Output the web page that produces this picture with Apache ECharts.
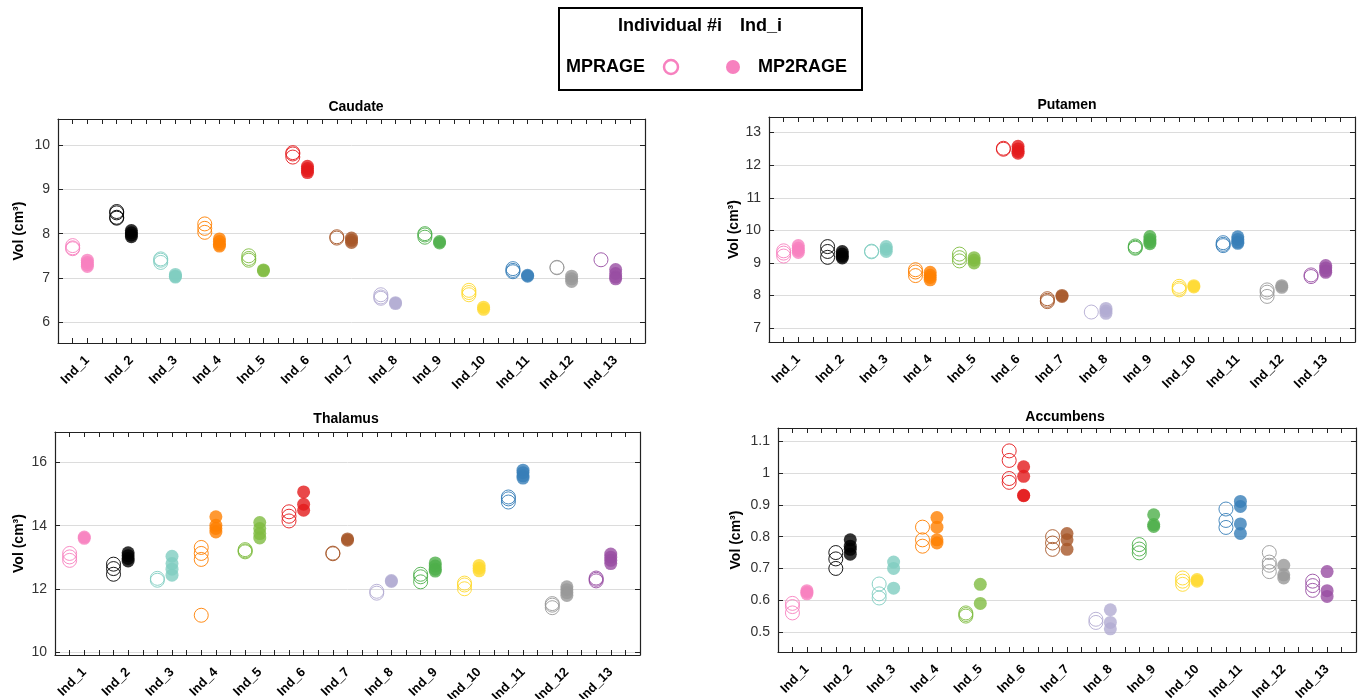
<!DOCTYPE html>
<html>
<head>
<meta charset="utf-8">
<script src="https://cdn.jsdelivr.net/npm/echarts@6/dist/echarts.min.js"></script>
<style>
html,body{margin:0;padding:0;background:#fff;}
#chart{width:1364px;height:699px;}
</style>
</head>
<body>
<div id="chart"></div>
<script>
const individuals = ['Ind_1','Ind_2','Ind_3','Ind_4','Ind_5','Ind_6','Ind_7','Ind_8','Ind_9','Ind_10','Ind_11','Ind_12','Ind_13'];
const colors = ['#F781BF','#000000','#80CDC1','#FF7F00','#7FBC41','#E41A1C','#A65628','#B2ABD2','#4DAF4A','#FFD92F','#377EB8','#999999','#984EA3'];

const caudateMPRAGE = [[7.73,7.68,7.66],[8.50,8.47,8.37,8.35],[7.43,7.40,7.35],[8.22,8.12,8.03],[7.50,7.44,7.40],[9.83,9.80,9.73],[7.93,7.90],[6.62,6.57,6.54],[8.00,7.97,7.92],[6.72,6.67,6.62],[7.21,7.17,7.14],[7.24,7.23],[7.41]];
const caudateMP2RAGE = [[7.40,7.35,7.30,7.26],[8.07,8.02,7.97,7.93],[7.08,7.04,7.02],[7.88,7.82,7.76,7.72],[7.18,7.16],[9.52,9.47,9.42,9.38],[7.90,7.85,7.80],[6.44,6.42],[7.82,7.79],[6.34,6.29],[7.06,7.04],[7.04,6.98,6.92],[7.19,7.10,7.02,6.98]];

const putamenMPRAGE = [[9.37,9.30,9.21],[9.50,9.35,9.17],[9.36,9.34],[8.79,8.72,8.61],[9.27,9.16,9.06],[12.52,12.49],[7.90,7.85,7.81],[7.49],[9.52,9.48,9.45],[8.28,8.22,8.17],[9.62,9.57,9.53],[8.17,8.10,7.97],[8.63,8.58]];
const putamenMP2RAGE = [[9.53,9.45,9.38,9.32],[9.35,9.27,9.20,9.15],[9.50,9.42,9.35],[8.71,8.62,8.55,8.48],[9.16,9.08,9.00],[12.58,12.50,12.42,12.37],[8.00,7.97],[7.60,7.52,7.45],[9.81,9.72,9.64,9.59],[8.30,8.26],[9.80,9.72,9.64,9.60],[8.30,8.25],[8.92,8.84,8.76,8.71]];

const thalamusMPRAGE = [[13.12,13.01,12.90],[12.78,12.64,12.46],[12.33,12.27],[13.31,13.12,12.93,11.16],[13.24,13.20,13.17],[14.44,14.30,14.15],[13.13,13.11],[11.92,11.86],[12.46,12.38,12.22],[12.18,12.12,12.00],[14.91,14.85,14.75],[11.53,11.48,11.40],[12.34,12.30,12.25]];
const thalamusMP2RAGE = [[13.64,13.60],[13.14,13.05,12.96,12.88],[13.03,12.80,12.62,12.43],[14.28,14.01,13.91,13.80],[14.10,13.91,13.75,13.61],[15.07,14.68,14.49],[13.58,13.54],[12.26,12.23],[12.82,12.72,12.62,12.56],[12.74,12.65,12.57],[15.76,15.68,15.58,15.51],[12.06,11.97,11.88,11.79],[13.10,13.00,12.90,12.80]];

const accumbensMPRAGE = [[0.59,0.58,0.56],[0.75,0.73,0.70],[0.651,0.62,0.607],[0.83,0.79,0.77],[0.56,0.555,0.55],[1.07,1.04,0.983,0.971],[0.80,0.78,0.76],[0.54,0.53],[0.775,0.761,0.749],[0.67,0.66,0.65],[0.887,0.851,0.829],[0.75,0.72,0.71,0.69],[0.66,0.646,0.631]];
const accumbensMP2RAGE = [[0.63,0.625,0.62],[0.79,0.77,0.76,0.745],[0.72,0.70,0.638],[0.86,0.83,0.79,0.78],[0.65,0.59],[1.02,0.99,0.93,0.929],[0.81,0.79,0.76],[0.57,0.53,0.51],[0.869,0.838,0.832],[0.665,0.66],[0.911,0.895,0.84,0.81],[0.71,0.68,0.67],[0.69,0.63,0.612]];

const panels = [
  {title:'Caudate', m:caudateMPRAGE, m2:caudateMP2RAGE, min:5.53, max:10.59, split:5, grid:{left:58,top:119,width:587,height:224}, tx:351, ty:95, nameGap:32},
  {title:'Putamen', m:putamenMPRAGE, m2:putamenMP2RAGE, min:6.57, max:13.48, split:7, grid:{left:769,top:117,width:586,height:225}, tx:1062, ty:93, nameGap:28},
  {title:'Thalamus', m:thalamusMPRAGE, m2:thalamusMP2RAGE, min:9.9, max:16.97, split:4, grid:{left:55,top:432,width:585,height:223}, tx:341, ty:407, nameGap:29},
  {title:'Accumbens', m:accumbensMPRAGE, m2:accumbensMP2RAGE, min:0.437, max:1.142, split:7, grid:{left:778,top:428,width:578,height:224}, tx:1060, ty:405, nameGap:35}
];

const FONT = 'Liberation Sans, Arial, Helvetica, sans-serif';
const grid = [], xAxis = [], yAxis = [], series = [], title = [];

panels.forEach((p, gi) => {
  grid.push(Object.assign({containLabel:false, outerBoundsMode:'none'}, p.grid));
  title.push({text:p.title, left:p.tx, top:p.ty, textAlign:'center',
    textStyle:{fontFamily:FONT, fontWeight:'bold', fontSize:14, color:'#000'}});
  const tickStyle = {show:true, inside:true, length:5, lineStyle:{color:'#222', width:1}};
  const lineStyle = {show:true, onZero:false, lineStyle:{color:'#222', width:1.2}};
  xAxis.push({gridIndex:gi, type:'value', position:'bottom', min:0, max:40, interval:1,
    axisLine:lineStyle, axisTick:tickStyle, splitLine:{show:false},
    axisLabel:{show:true, interval:0, rotate:45, margin:15, fontFamily:FONT, fontWeight:'bold', fontSize:13, color:'#000',
      showMinLabel:true, showMaxLabel:true,
      formatter:function(v){ return (v % 3 === 2) ? individuals[(v - 2) / 3] : ''; }}});
  xAxis.push({gridIndex:gi, type:'value', position:'top', min:0, max:40, interval:1,
    axisLine:lineStyle, axisTick:tickStyle, splitLine:{show:false}, axisLabel:{show:false}});
  yAxis.push({gridIndex:gi, type:'value', position:'left', min:p.min, max:p.max, splitNumber:p.split,
    name:'Vol (cm³)', nameLocation:'middle', nameGap:p.nameGap, nameRotate:90,
    nameTextStyle:{fontFamily:FONT, fontWeight:'bold', fontSize:14, color:'#000'},
    axisLine:lineStyle, axisTick:tickStyle,
    axisLabel:{fontFamily:FONT, fontSize:14, color:'#333', margin:8, showMinLabel:false, showMaxLabel:false},
    splitLine:{show:true, lineStyle:{color:'#dcdcdc', width:1}}});
  yAxis.push({gridIndex:gi, type:'value', position:'right', min:p.min, max:p.max, splitNumber:p.split,
    axisLine:lineStyle, axisTick:tickStyle, axisLabel:{show:false}, splitLine:{show:false}});

  const hollow = [], filled = [];
  individuals.forEach((name, i) => {
    p.m[i].forEach(v => hollow.push({value:[3*i+1, v], itemStyle:{color:'rgba(255,255,255,0)', borderColor:colors[i], borderWidth:1, opacity:0.9}}));
    p.m2[i].forEach(v => filled.push({value:[3*i+2, v], itemStyle:{color:colors[i], borderWidth:0}}));
  });
  series.push({type:'scatter', name:'MPRAGE', xAxisIndex:2*gi, yAxisIndex:2*gi, symbol:'circle', symbolSize:14, data:hollow, silent:true, animation:false});
  series.push({type:'scatter', name:'MP2RAGE', xAxisIndex:2*gi, yAxisIndex:2*gi, symbol:'circle', symbolSize:13, data:filled, silent:true, animation:false});
});

const chart = echarts.init(document.getElementById('chart'), null, {renderer:'canvas'});
chart.setOption({
  backgroundColor:'#fff',
  animation:false,
  title:title,
  grid:grid, xAxis:xAxis, yAxis:yAxis, series:series,
  graphic:[
    {type:'rect', shape:{x:559, y:8, width:303, height:82}, style:{fill:'#fff', stroke:'#000', lineWidth:2}},
    {type:'text', x:618, y:26, style:{text:'Individual #i', font:'bold 18px ' + FONT, fill:'#000', align:'left', verticalAlign:'middle'}},
    {type:'text', x:740, y:26, style:{text:'Ind_i', font:'bold 18px ' + FONT, fill:'#000', align:'left', verticalAlign:'middle'}},
    {type:'text', x:566, y:67, style:{text:'MPRAGE', font:'bold 18px ' + FONT, fill:'#000', align:'left', verticalAlign:'middle'}},
    {type:'circle', shape:{cx:671, cy:67, r:7}, style:{fill:'#fff', stroke:'#F781BF', lineWidth:2.5}},
    {type:'circle', shape:{cx:733, cy:67, r:7}, style:{fill:'#F781BF'}},
    {type:'text', x:758, y:67, style:{text:'MP2RAGE', font:'bold 18px ' + FONT, fill:'#000', align:'left', verticalAlign:'middle'}}
  ]
});
</script>
</body>
</html>
